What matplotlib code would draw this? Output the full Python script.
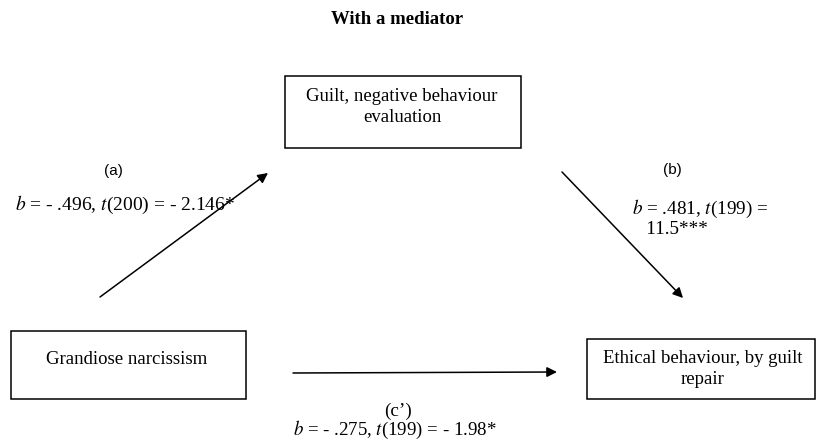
import matplotlib.pyplot as plt
from matplotlib.patches import Rectangle

plt.rcParams['font.family'] = ['Liberation Serif', 'DejaVu Serif']
plt.rcParams['mathtext.fontset'] = 'stix'

title = 'With a mediator'
box_labels = ['Guilt, negative behaviour\nevaluation',
              'Grandiose narcissism',
              'Ethical behaviour, by guilt\nrepair']
path_names = ['(a)', '(b)', "(c\u2019)"]
path_stats = [r'$b$ = - .496, $t$(200) = - 2.146*',
              '$b$ = .481, $t$(199) =\n   11.5***',
              r'$b$ = - .275, $t$(199) = - 1.98*']

fig = plt.figure(figsize=(8.17, 4.42), dpi=100)
ax = fig.add_axes([0, 0, 1, 1])
ax.set_xlim(0, 817)
ax.set_ylim(442, 0)
ax.axis('off')

ax.text(397, 20, title, ha='center', va='center', fontsize=13.5, fontweight='bold')

# boxes: (x0, y0, x1, y1) in pixels
boxes = [(285, 76, 521, 148), (11, 331, 246, 399), (587, 339, 815, 399)]
text_pos = [(402, 107), (127, 359), (703, 369)]
for (x0, y0, x1, y1), lab, (tx, ty) in zip(boxes, box_labels, text_pos):
    ax.add_patch(Rectangle((x0, y0), x1 - x0, y1 - y0, fill=False,
                           edgecolor='black', lw=1.1))
    ax.text(tx, ty, lab, ha='center', va='center', fontsize=13.5,
            linespacing=1.3)

arrows = [((100, 297), (268, 173)), ((562, 172), (683, 298)),
          ((293, 373), (557, 372))]
for start, end in arrows:
    ax.annotate('', xy=end, xytext=start,
                arrowprops=dict(arrowstyle='-|>', color='black', lw=1.1,
                                mutation_scale=15, shrinkA=0, shrinkB=0))

# path letters (sans) and statistics
ax.text(113, 171, path_names[0], ha='center', va='center', fontsize=11,
        family=['Liberation Sans', 'DejaVu Sans'])
ax.text(15, 205, path_stats[0], ha='left', va='center', fontsize=14)

ax.text(672, 170, path_names[1], ha='center', va='center', fontsize=11,
        family=['Liberation Sans', 'DejaVu Sans'])
ax.text(632, 218, path_stats[1], ha='left', va='center', fontsize=13.8,
        linespacing=1.05)

ax.text(398, 411, path_names[2], ha='center', va='center', fontsize=13.8)
ax.text(395, 430, path_stats[2], ha='center', va='center', fontsize=13.6)

fig.savefig('out.png', dpi=100)
